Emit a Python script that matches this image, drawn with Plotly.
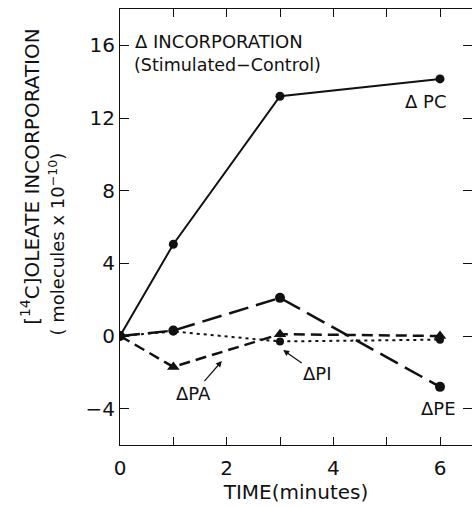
import plotly.graph_objects as go

time_min = [0, 1, 3, 6]
d_pc = [0.0, 5.05, 13.2, 14.15]
d_pe = [0.0, 0.3, 2.1, -2.8]
d_pa = [0.0, -1.7, 0.1, 0.0]
d_pi = [0.0, 0.25, -0.3, -0.2]

x_ticks = [0, 1, 2, 3, 4, 5, 6]
x_ticktext = ["0", "", "2", "", "4", "", "6"]
y_ticks = [-4, 0, 4, 8, 12, 16]

FONT = "DejaVu Sans"
BLACK = "#111111"

fig = go.Figure()
fig.add_trace(go.Scatter(x=time_min, y=d_pc, mode="lines+markers",
                         line=dict(color=BLACK, width=2),
                         marker=dict(symbol="circle", size=9, color=BLACK)))
fig.add_trace(go.Scatter(x=time_min, y=d_pe, mode="lines+markers",
                         line=dict(color=BLACK, width=2.5, dash="20px,8px"),
                         marker=dict(symbol="circle", size=10, color=BLACK)))
fig.add_trace(go.Scatter(x=time_min, y=d_pa, mode="lines+markers",
                         line=dict(color=BLACK, width=2.5, dash="11px,6px"),
                         marker=dict(symbol="triangle-up", size=11, color=BLACK)))
fig.add_trace(go.Scatter(x=time_min, y=d_pi, mode="lines+markers",
                         line=dict(color=BLACK, width=2, dash="3px,4px"),
                         marker=dict(symbol="circle", size=8, color=BLACK)))

ann = []
def lab(text, x, y, size=18, xanchor="center"):
    ann.append(dict(text=text, x=x, y=y, xref="x", yref="y", showarrow=False,
                    font=dict(size=size, color=BLACK, family=FONT), xanchor=xanchor))

lab("Δ INCORPORATION", 0.25, 16.2, 18, "left")
lab("(Stimulated−Control)", 0.22, 14.9, 17.5, "left")
lab("Δ PC", 5.72, 12.9)
lab("ΔPE", 5.97, -4.0)

ann.append(dict(text="ΔPA", x=1.91, y=-1.38, xref="x", yref="y", ax=-28, ay=32,
                showarrow=True, arrowhead=2, arrowsize=1, arrowwidth=1.2, arrowcolor=BLACK,
                font=dict(size=18, color=BLACK, family=FONT)))
ann.append(dict(text="ΔPI", x=3.06, y=-0.77, xref="x", yref="y", ax=34, ay=24,
                showarrow=True, arrowhead=2, arrowsize=1, arrowwidth=1.2, arrowcolor=BLACK,
                font=dict(size=18, color=BLACK, family=FONT)))

ann.append(dict(text="[<sup>14</sup>C]OLEATE INCORPORATION", x=0, y=0.615,
                xref="paper", yref="paper", xshift=-90, textangle=-90, showarrow=False,
                xanchor="center", yanchor="middle",
                font=dict(size=20, color=BLACK, family=FONT)))
ann.append(dict(text="( molecules x 10<sup>−10</sup>)", x=0, y=0.46,
                xref="paper", yref="paper", xshift=-63, textangle=-90, showarrow=False,
                xanchor="center", yanchor="middle",
                font=dict(size=18, color=BLACK, family=FONT)))

fig.update_layout(
    width=472, height=507,
    margin=dict(l=120, r=0, t=9, b=62),
    paper_bgcolor="white", plot_bgcolor="white",
    showlegend=False,
    font=dict(family=FONT, color=BLACK, size=20),
    annotations=ann,
    xaxis=dict(range=[0, 6.6], tickvals=x_ticks, ticktext=x_ticktext,
               ticks="inside", ticklen=8, tickwidth=1.2, tickcolor=BLACK,
               ticklabelstandoff=5,
               showline=True, linecolor=BLACK, linewidth=1.2, mirror="ticks",
               showgrid=False, zeroline=False,
               title=dict(text="TIME(minutes)", font=dict(size=20), standoff=4)),
    yaxis=dict(range=[-6, 18], tickvals=y_ticks,
               ticks="inside", ticklen=9, tickwidth=1.2, tickcolor=BLACK,
               showline=True, linecolor=BLACK, linewidth=1.2, mirror="ticks",
               showgrid=False, zeroline=False),
)

fig.write_html("out.html")
